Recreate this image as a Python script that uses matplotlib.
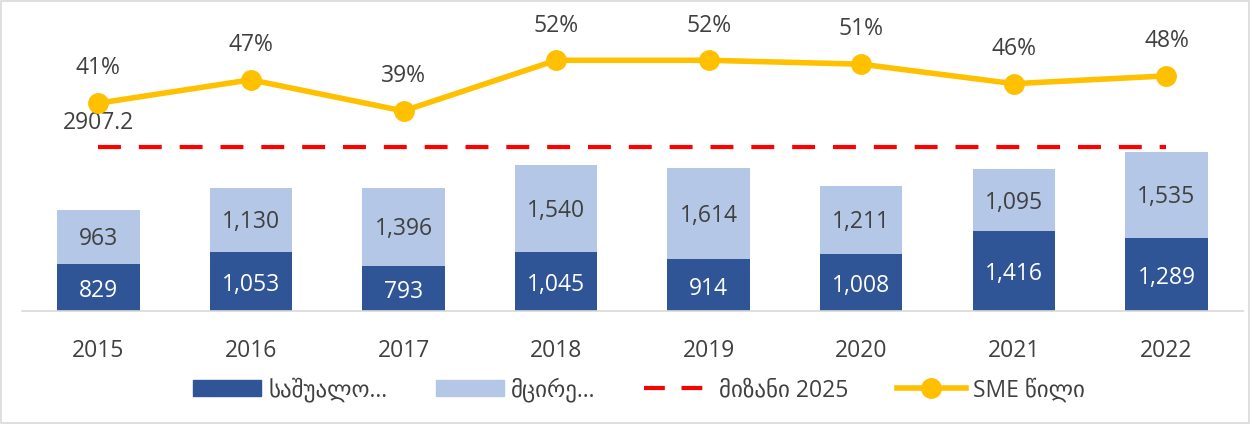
import matplotlib
matplotlib.use('Agg')
from matplotlib import pyplot as plt
from matplotlib.patches import Rectangle
from matplotlib.lines import Line2D
from matplotlib.patches import Patch
import numpy as np

plt.rcParams['font.family'] = ['Open Sans', 'DejaVu Sans']

years = ['2015', '2016', '2017', '2018', '2019', '2020', '2021', '2022']
medium = [829, 1053, 793, 1045, 914, 1008, 1416, 1289]
small = [963, 1130, 1396, 1540, 1614, 1211, 1095, 1535]
target = 2907.2
sme_share = [0.41, 0.47, 0.39, 0.52, 0.52, 0.51, 0.46, 0.48]
legend_names = ['საშუალო…', 'მცირე…', 'მიზანი 2025', 'SME წილი']

dark = '#2F5597'
light = '#B4C7E7'
txt = '#404040'
fs = 16.5

fig = plt.figure(figsize=(12.52, 4.24), dpi=100)
fig.patches.append(Rectangle((0.001, 0.002), 0.997, 0.995, transform=fig.transFigure,
                             fill=False, edgecolor='#D9D9D9', linewidth=1.2))
ax = fig.add_axes([0.0176, 0.2665, 0.975, 0.698])
x = np.arange(len(years))
w = 0.54

ax.bar(x, medium, w, color=dark, zorder=2)
ax.bar(x, small, w, bottom=medium, color=light, zorder=2)
for i in range(len(x)):
    ax.text(x[i], medium[i] / 2 - 60, f'{medium[i]:,}', ha='center', va='center',
            color='white', fontsize=fs)
    ax.text(x[i], medium[i] + small[i] / 2 - 40, f'{small[i]:,}', ha='center', va='center',
            color=txt, fontsize=fs)

ax.plot([x[0], x[-1]], [target, target], color='#FF0000', linewidth=3,
        dashes=(5.5, 4.3), zorder=3)
ax.text(x[0], target + 420, f'{target}', ha='center', va='center', color=txt, fontsize=fs)

ax.set_xlim(-0.5, len(x) - 0.5)
ax.set_ylim(0, 5248)
ax.set_yticks([])
ax.set_xticks(x)
ax.set_xticklabels(years, fontsize=fs, color=txt)
ax.tick_params(axis='x', length=0, pad=20)
for s in ['top', 'right', 'left']:
    ax.spines[s].set_visible(False)
ax.spines['bottom'].set_color('#D9D9D9')
ax.spines['bottom'].set_linewidth(1.2)

ax2 = ax.twinx()
ax2.plot(x, sme_share, color='#FFC000', linewidth=4, marker='o', markersize=14, zorder=4)
for i in range(len(x)):
    ax2.annotate(f'{sme_share[i]:.0%}', (x[i], sme_share[i]), xytext=(0, 25),
                 textcoords='offset points', ha='center', va='center', color=txt, fontsize=fs)
ax2.set_ylim(-0.123, 0.636)
ax2.set_yticks([])
for s in ['top', 'right', 'left', 'bottom']:
    ax2.spines[s].set_visible(False)

handles = [Patch(color=dark), Patch(color=light),
           Line2D([], [], color='#FF0000', linewidth=3, dashes=(5, 4)),
           Line2D([], [], color='#FFC000', linewidth=4, marker='o', markersize=14)]
fig.legend(handles, legend_names, loc='center', bbox_to_anchor=(0.51, 0.08), ncol=4,
           frameon=False, fontsize=fs, handlelength=3, handletextpad=0.3,
           columnspacing=2.1, labelcolor=txt)

fig.savefig('out.png', dpi=100)
